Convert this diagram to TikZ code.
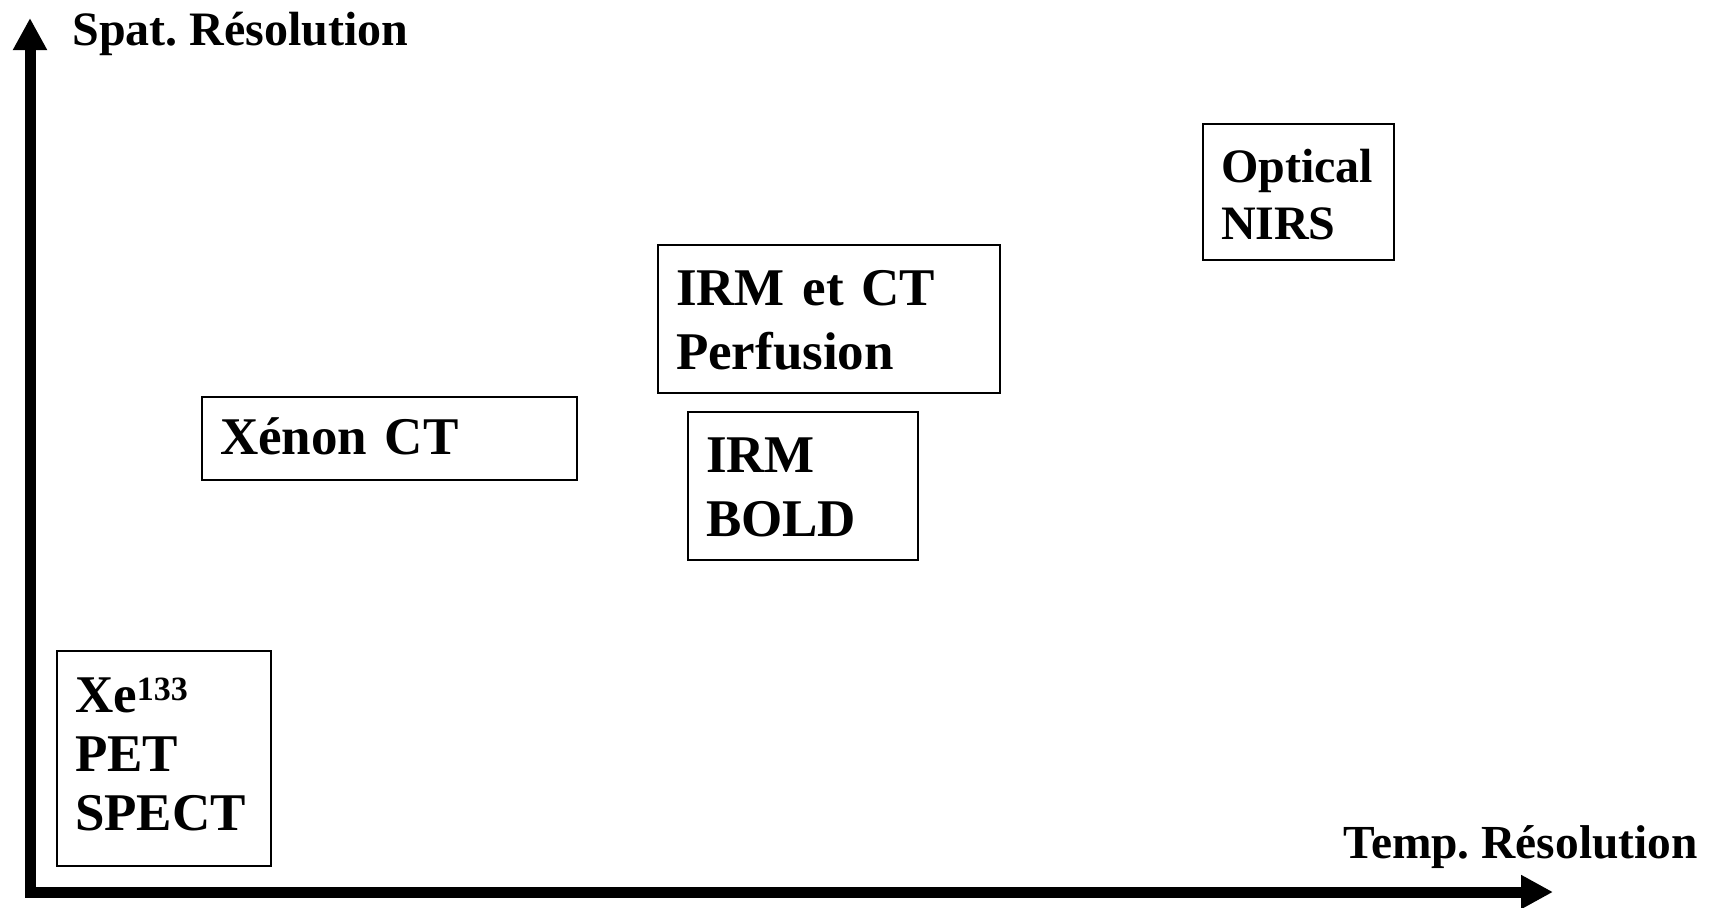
\documentclass[tikz,border=0pt]{standalone}
\usepackage{fontspec}
\setmainfont{Liberation Serif}
\usetikzlibrary{arrows.meta}
\frenchspacing
\newcommand\tightspace{\spaceskip 0.16em\relax}

\tikzset{
    method/.style = {draw, line width=1.1pt, align=left, inner xsep=9pt, inner ysep=0pt,
        font=\fontsize{26.5}{#1}\selectfont\bfseries\tightspace},
    method/.default = 32pt,
    axislabel/.style = {inner sep=0pt, font=\fontsize{#1}{28}\selectfont\bfseries},
    axis/.style = {line width=5.5pt, line join=miter,
        arrows = {Triangle[width=16pt, length=16pt]-Triangle[width=16pt, length=16pt]}},
}

\begin{document}
\begin{tikzpicture}[x=0.5pt, y=-0.5pt]
    \useasboundingbox (0, 0) rectangle (1713, 907);
    % axes
    \coordinate (origin) at (30, 892);
    \coordinate (ytip) at (30, 18);
    \coordinate (xtip) at (1553, 892);
    \draw[axis] (ytip) -- (origin) -- (xtip);
    \node[axislabel=24, anchor=base west] (spat) at (72, 45) {Spat. Résolution};
    \node[axislabel=23.7, anchor=base east] (temp) at (1698, 858) {Temp. Résolution};
    % methods
    \node[method=29.5pt, text width=89pt, text height=30.5pt, text depth=77pt] (xe) at (164, 758.5)
        {Xe\raisebox{6pt}{\fontsize{17}{17}\selectfont 133}\\PET\\SPECT};
    \node[method, text width=169.5pt, text height=28.5pt, text depth=13pt] (xenon) at (389.5, 438.5) {Xénon CT};
    \node[method, text width=153pt, text height=30pt, text depth=44pt] (perf) at (829, 319) {IRM et CT\\Perfusion};
    \node[method, text width=97pt, text height=30pt, text depth=44pt] (bold) at (803, 486) {IRM\\BOLD};
    \node[method=28.5pt, text width=77.5pt, text height=29pt, text depth=39pt,
        font=\fontsize{24}{28.5}\selectfont\bfseries] (nirs) at (1298.5, 192) {Optical\\NIRS};
\end{tikzpicture}
\end{document}
